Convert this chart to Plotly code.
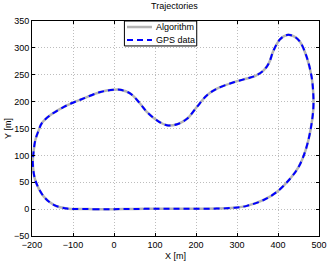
import plotly.graph_objects as go

gps_x = [-100, -50, 0, 50, 100, 150, 200, 250, 292, 324, 365, 397, 430, 450, 467, 479, 486, 486, 482, 470,
         454, 440, 422, 405, 389, 378, 365, 345, 324, 292, 251, 227, 202, 178, 154, 129, 105, 80, 64, 40,
         15, -1, -33, -74, -115, -155, -176, -184, -192, -197, -198, -192, -171, -147, -115, -100]
gps_y = [0.3, 0, 0, 0.3, 0.6, 0.5, 0.6, 1, 2.5, 6, 17, 32, 57, 78, 109, 146, 185, 215, 246, 283,
         311, 321, 324, 316, 295, 272, 258, 248, 243, 236, 224, 212, 190, 168, 158, 156, 165, 181, 196, 215,
         222, 222, 218, 206, 193, 175, 160, 146, 128, 100, 85, 54, 23, 8, 1, 0.3]
alg_x = list(gps_x)
alg_y = list(gps_y)

x_ticks = [-200, -100, 0, 100, 200, 300, 400, 500]
y_ticks = [-50, 0, 50, 100, 150, 200, 250, 300, 350]
series_names = ["Algorithm", "GPS data"]

font = "Liberation Sans, Arial, sans-serif"
alg_line = dict(color="#b4b4b4", width=2.5)
gps_line = dict(color="#0000ff", width=2, dash="6px,4px")

fig = go.Figure()
fig.add_trace(go.Scatter(x=alg_x, y=alg_y, mode="lines", name=series_names[0],
                         line=dict(**alg_line, shape="spline", smoothing=1.0)))
fig.add_trace(go.Scatter(x=gps_x, y=gps_y, mode="lines", name=series_names[1],
                         line=dict(**gps_line, shape="spline", smoothing=1.0)))

axis_common = dict(showline=True, linecolor="black", linewidth=1, mirror="ticks",
                   ticks="inside", ticklen=3, tickcolor="black", automargin=False,
                   showgrid=True, gridcolor="#bdbdbd", griddash="1px,2px", gridwidth=1,
                   zeroline=False, tickfont=dict(size=9, color="black", family=font))

# compact MATLAB-style legend box (paper coordinates)
lx0, lx1, ly0, ly1 = 0.322, 0.574, 0.884, 1.0
sx0, sx1, tx = 0.331, 0.418, 0.425
rows_y = [0.972, 0.912]
shapes = [dict(type="rect", xref="paper", yref="paper", x0=lx0, x1=lx1, y0=ly0, y1=ly1,
               line=dict(color="black", width=1), fillcolor="white", layer="above")]
annotations = []
for name, ly, ln in zip(series_names, rows_y, [alg_line, gps_line]):
    shapes.append(dict(type="line", xref="paper", yref="paper", x0=sx0, x1=sx1, y0=ly, y1=ly,
                       line=ln, layer="above"))
    annotations.append(dict(text=name, xref="paper", yref="paper", x=tx, y=ly, xanchor="left",
                            yanchor="middle", showarrow=False,
                            font=dict(size=9, color="black", family=font)))

fig.update_layout(
    width=329, height=266,
    margin=dict(l=32, r=10, t=21, b=30),
    paper_bgcolor="white", plot_bgcolor="white",
    title=dict(text="Trajectories", x=0.53, xanchor="center", y=0.99, yanchor="top",
               font=dict(size=9, color="black", family=font)),
    xaxis=dict(range=[-200, 500], tickvals=x_ticks, title=dict(text="X [m]", standoff=3,
               font=dict(size=9, color="black", family=font)), **axis_common),
    yaxis=dict(range=[-50, 350], tickvals=y_ticks, title=dict(text="Y [m]", standoff=0,
               font=dict(size=9, color="black", family=font)), **axis_common),
    showlegend=False,
    shapes=shapes,
    annotations=annotations,
)

fig.write_html("out.html", config={"displayModeBar": False},
               post_script="document.body.style.margin='0';")
